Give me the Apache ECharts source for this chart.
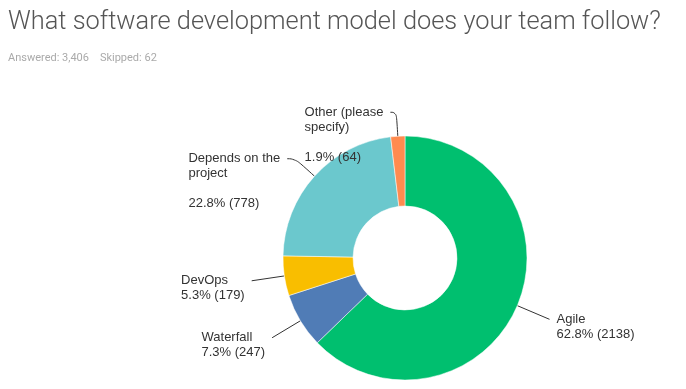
<!DOCTYPE html>
<html>
<head>
<meta charset="utf-8">
<script src="https://cdn.jsdelivr.net/npm/echarts@6/dist/echarts.min.js"></script>
<style>
html,body{margin:0;padding:0;background:#fff;}
#chart{width:686px;height:389px;}
</style>
</head>
<body>
<div id="chart"></div>
<script>
var titleText = 'What software development model does your team follow?';
var subText = 'Answered: 3,406    Skipped: 62';
var categories = ['Agile', 'Waterfall', 'DevOps', 'Depends on the project', 'Other (please specify)'];
var labelLines = [['Agile'], ['Waterfall'], ['DevOps'], ['Depends on the', 'project', ''], ['Other (please', 'specify)', '']];
var counts = [2138, 247, 179, 778, 64];
var percents = ['62.8%', '7.3%', '5.3%', '22.8%', '1.9%'];
var colors = ['#00BF6F', '#507CB6', '#F9BE00', '#6BC8CD', '#FF8B4F'];
var lineLen = [35, 33, 33, 26, 24];
var lineLen2 = [0, 0, 0, 8, 6];
var smoothLine = [false, false, false, 0.5, 0.5];

var LH = 15;
var data = categories.map(function (c, i) {
  var lines = labelLines[i].concat([percents[i] + ' (' + counts[i] + ')']);
  return {
    name: c,
    value: counts[i],
    itemStyle: { color: colors[i] },
    label: {
      formatter: lines.map(function (l) { return '{t|' + l + '}'; }).join('\n'),
      padding: [(lines.length - 1) * LH, 0, 0, 0]
    },
    labelLine: { length: lineLen[i], length2: lineLen2[i], smooth: smoothLine[i] }
  };
});

var chart = echarts.init(document.getElementById('chart'));
chart.setOption({
  animation: false,
  title: {
    text: titleText,
    subtext: subText,
    left: 3,
    top: 5,
    itemGap: 18,
    textStyle: { fontFamily: 'Roboto', fontWeight: 300, fontSize: 25.4, color: '#555' },
    subtextStyle: { fontFamily: 'Roboto', fontSize: 11, color: '#aaa' }
  },
  series: [{
    type: 'pie',
    center: [405, 258],
    radius: [52, 122],
    startAngle: 90,
    clockwise: true,
    avoidLabelOverlap: false,
    data: data,
    itemStyle: { borderColor: '#fff', borderWidth: 0.5 },
    label: {
      show: true,
      position: 'outside',
      distanceToLabelLine: 7,
      fontFamily: 'Liberation Sans',
      fontSize: 13,
      lineHeight: LH,
      color: '#333',
      rich: {
        t: { align: 'left', fontFamily: 'Liberation Sans', fontSize: 13, lineHeight: LH, color: '#333' }
      }
    },
    labelLine: { lineStyle: { color: '#333', width: 1 } }
  }]
});
</script>
</body>
</html>
